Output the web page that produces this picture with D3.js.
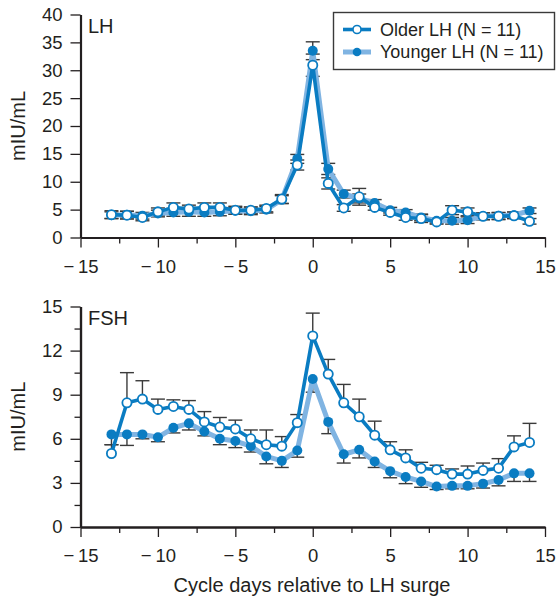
<!DOCTYPE html>
<html>
<head>
<meta charset="utf-8">
<script src="https://cdn.jsdelivr.net/npm/d3@7"></script>
<style>
  body { margin: 0; background: #fff; }
  svg { display: block; }
  text { font-family: "Liberation Sans", Arial, Helvetica, sans-serif; fill: #231f20; }
</style>
</head>
<body>
<svg id="chart" width="557" height="602"></svg>
<script>
// Cycle days relative to the LH surge
const days = [-13, -12, -11, -10, -9, -8, -7, -6, -5, -4, -3, -2, -1, 0,
              1, 2, 3, 4, 5, 6, 7, 8, 9, 10, 11, 12, 13, 14];

// LH (mIU/mL), mean and SEM
const lhOlder = [4.1, 4.0, 3.6, 4.6, 5.4, 5.1, 5.4, 5.4, 4.9, 4.9, 5.2, 6.9, 13.0, 30.9,
                 9.7, 5.3, 7.3, 5.4, 4.5, 3.6, 3.4, 2.8, 4.9, 4.6, 3.8, 3.8, 3.9, 2.9];
const lhOlderErr = [0.7, 0.7, 0.6, 0.7, 0.8, 0.7, 0.8, 0.8, 0.7, 0.6, 0.6, 0.8, 0.9, 2.0,
                    1.0, 0.6, 1.5, 0.5, 0.5, 0.5, 0.7, 0.4, 0.8, 0.7, 0.6, 0.6, 0.5, 0.5];
const lhYounger = [4.0, 4.1, 3.9, 4.3, 4.5, 4.6, 4.5, 4.6, 4.8, 4.7, 5.0, 6.8, 14.1, 33.5,
                   12.3, 7.8, 7.0, 6.2, 4.9, 4.5, 3.6, 3.0, 3.0, 3.1, 3.8, 3.9, 4.0, 4.8];
const lhYoungerErr = [0.6, 0.6, 0.6, 0.6, 0.7, 0.8, 0.7, 0.7, 0.6, 0.6, 0.6, 0.7, 0.8, 1.6,
                      1.0, 0.7, 0.8, 0.6, 0.5, 0.5, 0.6, 0.4, 0.6, 0.6, 0.6, 0.6, 0.6, 0.5];

// FSH (mIU/mL), mean and SEM (older shown upward, younger downward)
const fshOlder = [5.0, 8.45, 8.7, 8.0, 8.2, 8.0, 7.15, 6.8, 6.67, 6.0, 5.6, 5.5, 7.1, 13.0,
                  10.4, 8.45, 7.5, 6.25, 5.25, 4.7, 4.0, 3.9, 3.6, 3.6, 3.85, 4.0, 5.45, 5.75];
const fshOlderErr = [0.6, 2.05, 1.25, 0.7, 0.45, 0.6, 0.7, 0.65, 0.6, 0.6, 1.0, 0.65, 0.55, 1.55,
                     1.0, 1.25, 1.2, 0.95, 0.55, 0.55, 0.4, 0.3, 0.35, 0.55, 0.5, 0.65, 0.75, 1.3];
const fshYounger = [6.3, 6.3, 6.3, 6.1, 6.75, 7.05, 6.5, 6.0, 5.85, 5.5, 4.8, 4.5, 5.2, 10.07,
                    7.15, 4.95, 5.25, 4.45, 3.8, 3.4, 3.1, 2.75, 2.8, 2.8, 2.95, 3.2, 3.65, 3.65];
const fshYoungerErr = [0.7, 0.75, 0.3, 0.3, 0.35, 0.45, 0.3, 0.4, 0.45, 0.4, 0.5, 0.45, 0.45, 0.9,
                       0.8, 0.6, 0.55, 0.4, 0.45, 0.45, 0.4, 0.2, 0.2, 0.2, 0.3, 0.4, 0.55, 0.55];

// Axis ticks
const xTicks = [-15, -10, -5, 0, 5, 10, 15];
const xMinorTicks = [-12.5, -7.5, -2.5, 2.5, 7.5, 12.5];
const lhTicks = [0, 5, 10, 15, 20, 25, 30, 35, 40];
const fshTicks = [0, 3, 6, 9, 12, 15];
const fshMinorTicks = [1.5, 4.5, 7.5, 10.5, 13.5];

const seriesNames = ["Older LH (N = 11)", "Younger LH (N = 11)"];

const DARK = "#0a7cc2";
const LIGHT = "#80b4e2";
const INK = "#231f20";
const BAR = "#3b3b3b";

const svg = d3.select("#chart");

const x = d3.scaleLinear().domain([-15, 15]).range([80.5, 545]);
// typeset minus followed by a thin space
const fmt = v => v < 0 ? "\u2212\u2009" + Math.abs(v) : String(v);

function panel(cfg) {
  const g = svg.append("g");
  const y = d3.scaleLinear().domain(cfg.domain).range(cfg.range);
  const y0 = y(cfg.domain[0]);

  // x axis
  g.append("g").attr("transform", `translate(0,${y0})`)
    .call(d3.axisBottom(x).tickValues(xTicks).tickFormat(fmt).tickSize(10).tickSizeOuter(0).tickPadding(12));
  g.append("g").attr("transform", `translate(0,${y0})`)
    .call(d3.axisBottom(x).tickValues(xMinorTicks).tickFormat("").tickSize(6).tickSizeOuter(0));

  // y axis
  g.append("g").attr("transform", `translate(${x(-15)},0)`)
    .call(d3.axisLeft(y).tickValues(cfg.ticks).tickSize(10).tickSizeOuter(0).tickPadding(8));
  if (cfg.minor) {
    g.append("g").attr("transform", `translate(${x(-15)},0)`)
      .call(d3.axisLeft(y).tickValues(cfg.minor).tickFormat("").tickSize(6).tickSizeOuter(0));
  }
  g.selectAll(".domain").attr("stroke", INK).attr("stroke-width", 2.2);
  g.selectAll(".tick line").attr("stroke", INK).attr("stroke-width", 1.3);
  g.selectAll(".tick text").attr("font-size", 18.5).attr("fill", INK)
    .style("font-family", '"Liberation Sans", Arial, sans-serif');

  // y title
  g.append("text")
    .attr("transform", `translate(25,${(cfg.range[0] + cfg.range[1]) / 2}) rotate(-90)`)
    .attr("text-anchor", "middle").attr("font-size", 20).text("mIU/mL");

  // panel label
  g.append("text").attr("x", 88).attr("y", cfg.range[1] + 18)
    .attr("font-size", 20).text(cfg.label);

  // error bars
  const capW = 7;
  function bars(vals, errs, dirs) {
    const eg = g.append("g").attr("stroke", BAR).attr("stroke-width", 1.4).attr("fill", "none");
    days.forEach((d, i) => {
      dirs.forEach(s => {
        const yEnd = y(vals[i] + s * errs[i]);
        eg.append("line").attr("x1", x(d)).attr("x2", x(d)).attr("y1", y(vals[i])).attr("y2", yEnd);
        eg.append("line").attr("x1", x(d) - capW).attr("x2", x(d) + capW).attr("y1", yEnd).attr("y2", yEnd);
      });
    });
  }
  bars(cfg.older, cfg.olderErr, cfg.olderDirs);
  bars(cfg.younger, cfg.youngerErr, cfg.youngerDirs);

  const line = d3.line().x((d, i) => x(days[i])).y(d => y(d));

  // younger: light line, solid dots
  g.append("path").datum(cfg.younger).attr("d", line)
    .attr("fill", "none").attr("stroke", LIGHT).attr("stroke-width", 5).attr("stroke-linejoin", "round");
  g.append("g").selectAll("circle").data(cfg.younger).join("circle")
    .attr("cx", (d, i) => x(days[i])).attr("cy", d => y(d)).attr("r", 5).attr("fill", DARK);

  // older: dark line, open circles
  g.append("path").datum(cfg.older).attr("d", line)
    .attr("fill", "none").attr("stroke", DARK).attr("stroke-width", 3.6).attr("stroke-linejoin", "round");
  g.append("g").selectAll("circle").data(cfg.older).join("circle")
    .attr("cx", (d, i) => x(days[i])).attr("cy", d => y(d)).attr("r", 4.6)
    .attr("fill", "#fff").attr("stroke", DARK).attr("stroke-width", 1.8);
}

panel({
  label: "LH", domain: [0, 40], range: [237.5, 14.5], ticks: lhTicks, minor: null,
  older: lhOlder, olderErr: lhOlderErr, olderDirs: [1, -1],
  younger: lhYounger, youngerErr: lhYoungerErr, youngerDirs: [1, -1]
});

panel({
  label: "FSH", domain: [0, 15], range: [527, 306.5], ticks: fshTicks, minor: fshMinorTicks,
  older: fshOlder, olderErr: fshOlderErr, olderDirs: [1],
  younger: fshYounger, youngerErr: fshYoungerErr, youngerDirs: [-1]
});

// x title
svg.append("text").attr("x", 312).attr("y", 592).attr("text-anchor", "middle")
  .attr("font-size", 20).text("Cycle days relative to LH surge");

// legend
const lg = svg.append("g");
lg.append("rect").attr("x", 333.5).attr("y", 12.5).attr("width", 221).attr("height", 57)
  .attr("fill", "#fff").attr("stroke", "#3a3a3a").attr("stroke-width", 1.4);
const rows = [
  { name: seriesNames[0], color: DARK, width: 3.6, open: true },
  { name: seriesNames[1], color: LIGHT, width: 5, open: false }
];
rows.forEach((r, i) => {
  const yy = 29.5 + i * 22.5;
  lg.append("line").attr("x1", 343).attr("x2", 371).attr("y1", yy).attr("y2", yy)
    .attr("stroke", r.color).attr("stroke-width", r.width);
  if (r.open) {
    lg.append("circle").attr("cx", 357).attr("cy", yy).attr("r", 4)
      .attr("fill", "#fff").attr("stroke", DARK).attr("stroke-width", 1.6);
  } else {
    lg.append("circle").attr("cx", 357).attr("cy", yy).attr("r", 4.3).attr("fill", DARK);
  }
  lg.append("text").attr("x", 380).attr("y", yy + 6).attr("font-size", 18).text(r.name);
});
</script>
</body>
</html>
